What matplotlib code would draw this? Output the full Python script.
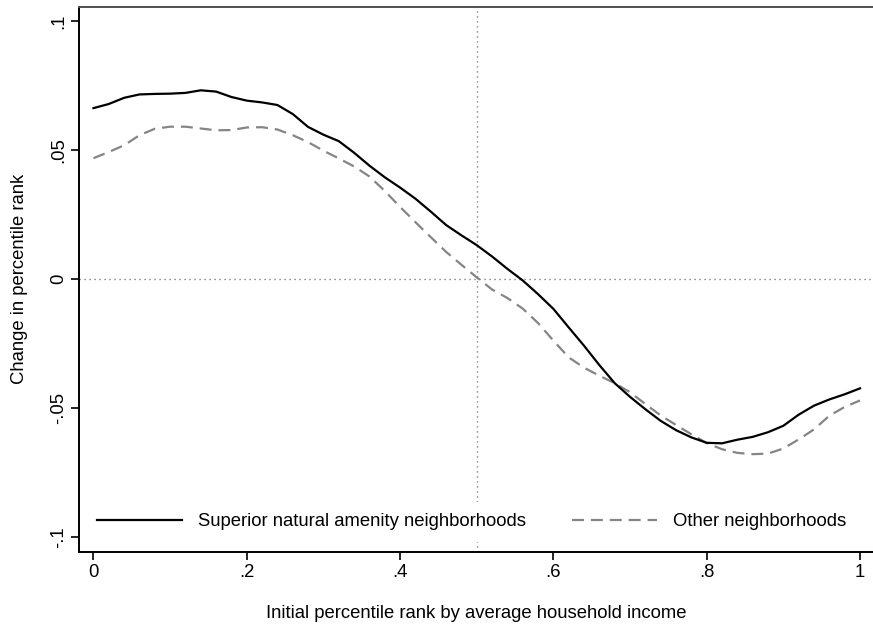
import matplotlib
matplotlib.use("Agg")
import matplotlib.pyplot as plt
import numpy as np

plt.rcParams['font.family'] = ['Liberation Sans', 'DejaVu Sans']
plt.rcParams['lines.scale_dashes'] = False

# initial percentile rank (bins of 0.02)
rank = np.round(np.arange(0, 1.0001, 0.02), 2)

superior = [0.0663, 0.0679, 0.0703, 0.0716, 0.0718, 0.0719, 0.0722, 0.0732, 0.0727, 0.0706,
            0.0692, 0.0685, 0.0675, 0.0640, 0.0590, 0.0560, 0.0535, 0.0490, 0.0440, 0.0395,
            0.0355, 0.0312, 0.0262, 0.0210, 0.0170, 0.0132, 0.0088, 0.0040, -0.0005, -0.0058,
            -0.0115, -0.0187, -0.0258, -0.0333, -0.0403, -0.0456, -0.0504, -0.0549, -0.0585, -0.0613,
            -0.0634, -0.0636, -0.0622, -0.0611, -0.0593, -0.0568, -0.0525, -0.0490, -0.0466, -0.0446,
            -0.0423]

other = [0.0469, 0.0493, 0.0519, 0.0558, 0.0583, 0.0591, 0.0591, 0.0584, 0.0577, 0.0578,
         0.0588, 0.0589, 0.0580, 0.0558, 0.0531, 0.0498, 0.0468, 0.0437, 0.0398, 0.0342,
         0.0280, 0.0221, 0.0163, 0.0106, 0.0056, 0.0007, -0.0040, -0.0073, -0.0114, -0.0170,
         -0.0238, -0.0303, -0.0343, -0.0374, -0.0403, -0.0438, -0.0484, -0.0528, -0.0565, -0.0601,
         -0.0635, -0.0659, -0.0673, -0.0678, -0.0676, -0.0656, -0.0621, -0.0582, -0.0529, -0.0495,
         -0.0470]

xticks = [0, 0.2, 0.4, 0.6, 0.8, 1.0]
xtick_labels = ["0", ".2", ".4", ".6", ".8", "1"]
yticks = [-0.1, -0.05, 0, 0.05, 0.1]
ytick_labels = ["-.1", "-.05", "0", ".05", ".1"]

W, H = 873, 624
fig = plt.figure(figsize=(W / 100, H / 100), dpi=100)
ax = fig.add_axes([78.7 / W, (H - 551.7) / H, (874.8 - 78.7) / W, (551.7 - 6.7) / H])

fs = 13.3
ax.axhline(0, color='#606060', lw=1.0, linestyle=(0, (0.8, 2.8)), zorder=1)
ax.axvline(0.5, color='#606060', lw=1.0, linestyle=(0, (0.8, 2.8)), zorder=1)

ax.plot(rank, superior, color='black', lw=1.6, label="Superior natural amenity neighborhoods", zorder=3)
ax.plot(rank, other, color='#858585', lw=1.6, dashes=(8.6, 5.0), label="Other neighborhoods", zorder=2)

ax.set_xlim(-0.0193, 1.0193)
ax.set_ylim(-0.1056, 0.1056)
ax.set_xticks(xticks)
ax.set_xticklabels(xtick_labels)
ax.set_yticks(yticks)
ax.set_yticklabels(ytick_labels, rotation=90, va='center')
ax.tick_params(axis='both', direction='out', length=6, width=1.2, labelsize=fs, color='black')
ax.tick_params(axis='x', pad=3)
ax.tick_params(axis='y', pad=2.5)

for side in ['left', 'bottom']:
    ax.spines[side].set_color('black')
    ax.spines[side].set_linewidth(1.4)
ax.spines['top'].set_color('#505050')
ax.spines['top'].set_linewidth(1.4)
ax.spines['right'].set_visible(False)

ax.set_xlabel("Initial percentile rank by average household income", fontsize=fs, labelpad=17)
ax.set_ylabel("Change in percentile rank", fontsize=fs, labelpad=16)

leg = ax.legend(loc='center left', bbox_to_anchor=(86 / W, (H - 522) / H),
                bbox_transform=fig.transFigure, ncol=2, fontsize=fs, frameon=True,
                facecolor='white', edgecolor='none', framealpha=1, fancybox=False,
                borderpad=0.6, borderaxespad=0, handlelength=4.6, handletextpad=0.85,
                columnspacing=2.5)
leg.set_zorder(5)

fig.savefig("out.png", dpi=100)
